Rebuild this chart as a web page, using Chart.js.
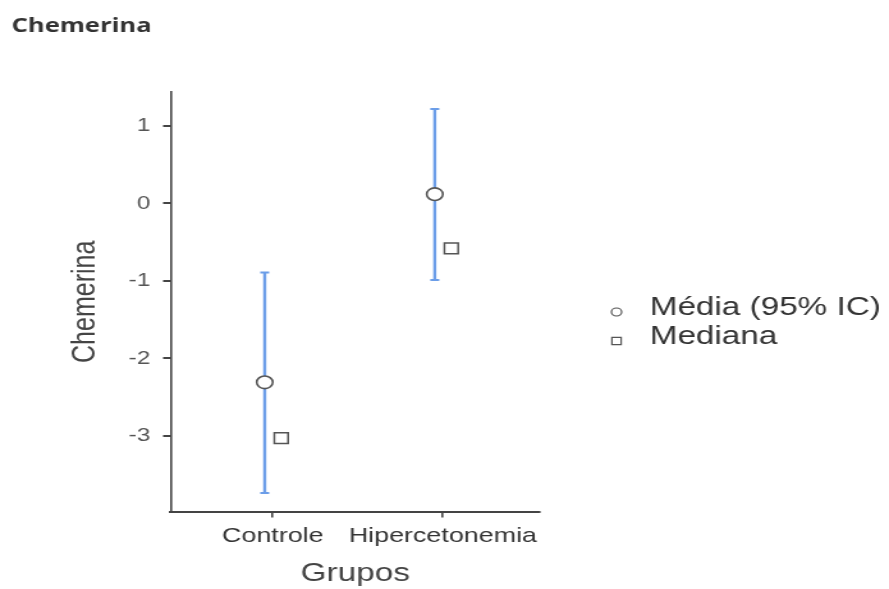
<!DOCTYPE html>
<html>
<head>
<meta charset="utf-8">
<script src="https://cdn.jsdelivr.net/npm/chart.js@4.4.1/dist/chart.umd.min.js"></script>
<style>
  html, body { margin: 0; padding: 0; background: #fff; overflow: hidden; }
  #wrap { position: absolute; left: 0; top: 0; width: 695px; height: 589px;
          transform: scaleX(1.2791); transform-origin: 0 0; }
</style>
</head>
<body>
<div id="wrap"><canvas id="c"></canvas></div>
<script>
// ---- data ----
const categories = ['Controle', 'Hipercetonemia'];
const meanValues = [-2.31, 0.12];
const ciLower = [-3.74, -0.99];
const ciUpper = [-0.89, 1.22];
const medianValues = [-3.03, -0.58];
const yTickValues = [-3, -2, -1, 0, 1];
const seriesLabels = ['Média (95% IC)', 'Mediana'];
const chartTitle = 'Chemerina';
const yTitle = 'Chemerina';
const xTitle = 'Grupos';

const FONT = "'Liberation Sans', Arial, sans-serif";
const BAR_COLOR = '#6B9DE8';
const AXIS_COLOR = '#444';

const meanPoints = categories.map((c, i) => ({ x: i + 1, y: meanValues[i] }));
const medianPoints = categories.map((c, i) => ({ x: i + 1, y: medianValues[i] }));

// shift datasets horizontally (pixel style offset)
const shiftPlugin = {
  id: 'shift',
  beforeDatasetDraw(chart, args) {
    const ds = chart.data.datasets[args.index];
    chart.ctx.save();
    chart.ctx.translate(ds.xShift || 0, 0);
  },
  afterDatasetDraw(chart) { chart.ctx.restore(); }
};

// confidence interval bars drawn through the scales
const errorBarPlugin = {
  id: 'errorBars',
  beforeDatasetsDraw(chart) {
    const { ctx, scales: { x, y } } = chart;
    const shift = chart.data.datasets[0].xShift || 0;
    ctx.save();
    ctx.strokeStyle = BAR_COLOR;
    categories.forEach((c, i) => {
      const px = x.getPixelForValue(i + 1) + shift;
      const yLo = y.getPixelForValue(ciLower[i]);
      const yHi = y.getPixelForValue(ciUpper[i]);
      ctx.lineWidth = 2.4;
      ctx.beginPath();
      ctx.moveTo(px, yLo); ctx.lineTo(px, yHi);
      ctx.stroke();
      ctx.lineWidth = 2;
      ctx.beginPath();
      ctx.moveTo(px - 3.5, yLo); ctx.lineTo(px + 3.5, yLo);
      ctx.moveTo(px - 3.5, yHi); ctx.lineTo(px + 3.5, yHi);
      ctx.stroke();
    });
    ctx.restore();
  }
};

// legend at the right
const legendPlugin = {
  id: 'sideLegend',
  afterDraw(chart) {
    const ctx = chart.ctx;
    ctx.save();
    const mx = 482, tx = 508;
    const rows = [{ ty: 308, my: 312 }, { ty: 337, my: 341 }];
    ctx.font = '26px ' + FONT;
    ctx.textBaseline = 'middle';
    ctx.textAlign = 'left';
    chart.data.datasets.forEach((ds, i) => {
      const r = rows[i];
      ctx.strokeStyle = '#555';
      ctx.fillStyle = '#fff';
      ctx.lineWidth = 1.2;
      ctx.beginPath();
      if (ds.pointStyle === 'circle') {
        ctx.arc(mx, r.my, 4, 0, Math.PI * 2);
      } else {
        ctx.rect(mx - 3.6, r.my - 3.6, 7.2, 7.2);
      }
      ctx.fill(); ctx.stroke();
      ctx.fillStyle = '#333';
      ctx.fillText(ds.label, tx, r.ty);
    });
    ctx.restore();
  }
};

new Chart(document.getElementById('c'), {
  type: 'scatter',
  data: {
    datasets: [
      {
        label: seriesLabels[0],
        data: meanPoints,
        xShift: -6.3,
        pointStyle: 'circle',
        pointRadius: 6.3,
        pointHoverRadius: 6.3,
        backgroundColor: '#fff',
        borderColor: '#555',
        pointBorderWidth: 1.6,
        showLine: false
      },
      {
        label: seriesLabels[1],
        data: medianPoints,
        xShift: 6.6,
        pointStyle: 'rect',
        pointRadius: 7.6,
        pointHoverRadius: 7.6,
        backgroundColor: '#fff',
        borderColor: '#555',
        pointBorderWidth: 1.5,
        showLine: false
      }
    ]
  },
  options: {
    responsive: true,
    maintainAspectRatio: false,
    animation: false,
    layout: { padding: { left: 9, right: 273, top: 0, bottom: 0 } },
    plugins: {
      legend: { display: false },
      tooltip: { enabled: false },
      title: {
        display: true,
        text: chartTitle,
        align: 'start',
        color: '#333',
        font: { family: "'Open Sans', sans-serif", size: 20, weight: 'bold' },
        padding: { top: 14, bottom: 54 }
      }
    },
    scales: {
      x: {
        type: 'linear',
        min: 0.4,
        max: 2.57,
        afterBuildTicks(scale) { scale.ticks = categories.map((c, i) => ({ value: i + 1 })); },
        ticks: {
          callback: (v) => categories[v - 1],
          color: '#333',
          font: { family: FONT, size: 21 },
          padding: 6,
          maxRotation: 0,
          autoSkip: false
        },
        grid: { display: true, drawOnChartArea: false, drawTicks: true, tickLength: 6, color: AXIS_COLOR, lineWidth: 1.6 },
        border: { display: true, color: AXIS_COLOR, width: 2 },
        title: {
          display: true, text: xTitle, color: '#444',
          font: { family: FONT, size: 26 },
          padding: { top: 3, bottom: 0 }
        }
      },
      y: {
        min: -3.98,
        max: 1.44,
        afterBuildTicks(scale) { scale.ticks = yTickValues.map(v => ({ value: v })); },
        ticks: {
          color: '#555',
          font: { family: FONT, size: 19 },
          padding: 10
        },
        grid: { display: true, drawOnChartArea: false, drawTicks: true, tickLength: 6, color: AXIS_COLOR, lineWidth: 2 },
        border: { display: true, color: AXIS_COLOR, width: 1.6 },
        title: {
          display: true, text: yTitle, color: '#444',
          font: { family: FONT, size: 25 },
          padding: { top: 43, bottom: 8.6 }
        }
      }
    }
  },
  plugins: [shiftPlugin, errorBarPlugin, legendPlugin]
});
</script>
</body>
</html>
